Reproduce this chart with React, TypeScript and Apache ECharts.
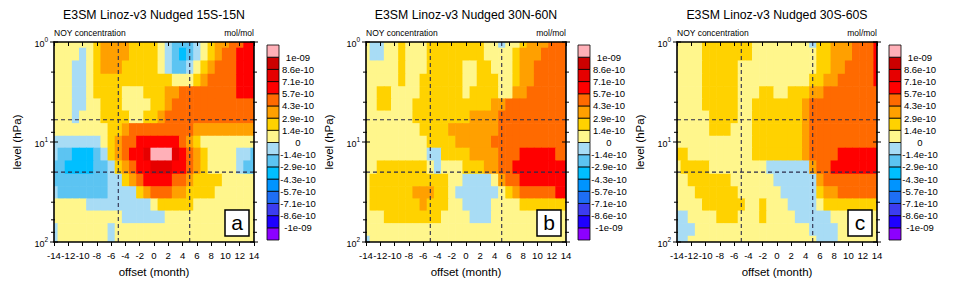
import React, { useEffect, useRef } from "react";
import * as echarts from "echarts";

// ---------- data ----------
const offsets = [-14, -13, -12, -11, -10, -9, -8, -7, -6, -5, -4, -3, -2, -1, 0, 1, 2, 3, 4, 5, 6, 7, 8, 9, 10, 11, 12, 13, 14];
const levels = [1, 1.3, 1.8, 2.4, 3.2, 4.2, 5.6, 7.5, 10, 13, 18, 24, 32, 42, 56, 75, 100]; // hPa
const yMajorTicks = [1, 10, 100];
const yMinorTicks = [2, 4, 6, 8, 20, 40, 60, 80];
const refOffsets = [-5, 5];
const refLevels = [6, 20];
// contour levels in units of 1e-10 mol/mol
const contourLevels = [-10, -8.6, -7.1, -5.7, -4.3, -2.9, -1.4, 0, 1.4, 2.9, 4.3, 5.7, 7.1, 8.6, 10];
const contourLabels = ["-1e-09", "-8.6e-10", "-7.1e-10", "-5.7e-10", "-4.3e-10", "-2.9e-10", "-1.4e-10", "0", "1.4e-10", "2.9e-10", "4.3e-10", "5.7e-10", "7.1e-10", "8.6e-10", "1e-09"];
const fillColors = ["#8c00ff", "#1e00ff", "#3c3cf0", "#1e6ef5", "#0094ff", "#00bfff", "#5cc4f2", "#a8dcf5", "#fff68c", "#ffd200", "#ffa000", "#ff6a00", "#ff0000", "#e60000", "#cc0000", "#ffb0b8"];
const panelTitles = ["E3SM Linoz-v3 Nudged 15S-15N", "E3SM Linoz-v3 Nudged 30N-60N", "E3SM Linoz-v3 Nudged 30S-60S"];
const panelLetters = ["a", "b", "c"];

// NOy anomaly (1e-10 mol/mol), rows = levels (top to bottom), cols = offsets
const noy15S15N = [
  [0.6,0.6,0.6,0.6,0.6,0.6,2.1,3.6,3.6,3.6,3.6,2.1,2.1,2.1,2.1,0.6,-0.6,-2.1,-2.1,-2.1,-0.6,0.6,2.1,3.6,3.6,5,5,6.4,6.4],
  [0.6,0.6,0.6,0.6,-0.6,0.6,2.1,3.6,3.6,3.6,3.6,2.1,2.1,2.1,2.1,0.6,-0.6,-2.1,-3.6,-2.1,-0.6,0.6,2.1,3.6,5,5,6.4,6.4,6.4],
  [0.6,0.6,0.6,-0.6,-0.6,0.6,2.1,3.6,3.6,3.6,2.1,2.1,2.1,2.1,2.1,0.6,-0.6,-2.1,-2.1,-0.6,0.6,2.1,3.6,5,5,5,6.4,6.4,6.4],
  [0.6,0.6,0.6,-0.6,-0.6,0.6,2.1,2.1,2.1,2.1,2.1,2.1,2.1,2.1,2.1,2.1,2.1,0.6,0.6,0.6,2.1,3.6,5,5,5,5,6.4,6.4,6.4],
  [0.6,0.6,0.6,-0.6,-0.6,0.6,2.1,2.1,2.1,2.1,0.6,0.6,0.6,2.1,2.1,2.1,3.6,3.6,5,5,5,5,5,5,5,5,6.4,6.4,6.4],
  [0.6,0.6,0.6,-0.6,-0.6,0.6,0.6,2.1,2.1,2.1,0.6,0.6,0.6,0.6,2.1,2.1,3.6,5,5,5,5,5,5,5,5,5,5,5,5],
  [0.6,0.6,0.6,-0.6,0.6,0.6,0.6,2.1,2.1,2.1,2.1,0.6,0.6,2.1,2.1,3.6,5,5,5,5,5,5,5,5,5,5,5,5,5],
  [0.6,0.6,0.6,0.6,0.6,0.6,0.6,0.6,2.1,2.1,3.6,5,5,5,5,5,5,5,5,5,3.6,3.6,3.6,3.6,3.6,3.6,3.6,3.6,3.6],
  [-0.6,-0.6,-0.6,-0.6,-0.6,-0.6,-0.6,0.6,2.1,3.6,5,5,6.4,6.4,6.4,6.4,6.4,6.4,5,3.6,2.1,0.6,0.6,0.6,0.6,0.6,0.6,0.6,0.6],
  [-0.6,-2.1,-2.1,-3.6,-3.6,-3.6,-2.1,-0.6,2.1,3.6,5,6.4,6.4,7.8,11,11,11,7.8,6.4,5,3.6,2.1,0.6,0.6,0.6,0.6,-0.6,-0.6,-2.1],
  [-2.1,-2.1,-3.6,-3.6,-3.6,-3.6,-2.1,-2.1,-0.6,2.1,3.6,5,6.4,6.4,7.8,7.8,7.8,6.4,6.4,5,3.6,2.1,0.6,0.6,0.6,0.6,-0.6,-2.1,-2.1],
  [-2.1,-2.1,-2.1,-2.1,-2.1,-2.1,-2.1,-2.1,-0.6,-0.6,2.1,3.6,5,6.4,6.4,6.4,6.4,5,5,3.6,2.1,2.1,2.1,2.1,0.6,0.6,0.6,0.6,0.6],
  [-0.6,-2.1,-2.1,-2.1,-2.1,-2.1,-2.1,-2.1,-0.6,-0.6,-0.6,-0.6,2.1,3.6,5,5,5,3.6,3.6,2.1,2.1,2.1,2.1,0.6,0.6,0.6,0.6,0.6,0.6],
  [0.6,0.6,0.6,0.6,0.6,-0.6,-0.6,-0.6,-0.6,-0.6,-0.6,-0.6,-0.6,-0.6,0.6,2.1,2.1,2.1,2.1,2.1,0.6,0.6,0.6,0.6,0.6,0.6,0.6,0.6,0.6],
  [0.6,0.6,0.6,0.6,0.6,0.6,0.6,0.6,0.6,0.6,-0.6,-0.6,-0.6,-0.6,-0.6,-0.6,0.6,0.6,0.6,0.6,0.6,0.6,0.6,0.6,0.6,0.6,0.6,0.6,0.6],
  [-0.6,0.6,0.6,0.6,0.6,0.6,0.6,0.6,-0.6,0.6,0.6,0.6,0.6,0.6,0.6,0.6,0.6,0.6,0.6,0.6,0.6,0.6,0.6,0.6,0.6,0.6,0.6,0.6,0.6],
  [-0.6,0.6,0.6,0.6,0.6,0.6,0.6,0.6,-0.6,0.6,0.6,0.6,0.6,0.6,0.6,0.6,0.6,0.6,0.6,0.6,0.6,0.6,0.6,0.6,0.6,0.6,0.6,0.6,0.6],
];

const noy30N60N = [
  [0.6,-0.6,-0.6,0.6,0.6,2.1,0.6,0.6,0.6,2.1,2.1,2.1,2.1,2.1,2.1,2.1,2.1,0.6,0.6,-0.6,0.6,0.6,2.1,3.6,3.6,3.6,5,5,5],
  [0.6,-0.6,-0.6,0.6,0.6,2.1,0.6,0.6,0.6,2.1,2.1,2.1,2.1,2.1,2.1,2.1,2.1,0.6,0.6,0.6,0.6,2.1,3.6,3.6,3.6,5,5,5,5],
  [0.6,0.6,0.6,0.6,0.6,2.1,0.6,0.6,0.6,2.1,2.1,2.1,2.1,2.1,0.6,0.6,2.1,2.1,0.6,0.6,0.6,2.1,3.6,3.6,5,5,5,5,5],
  [0.6,0.6,0.6,0.6,0.6,2.1,0.6,0.6,2.1,2.1,2.1,2.1,2.1,2.1,0.6,0.6,2.1,2.1,2.1,0.6,0.6,2.1,3.6,3.6,5,5,5,5,5],
  [0.6,0.6,2.1,2.1,0.6,0.6,0.6,0.6,2.1,2.1,2.1,2.1,2.1,2.1,0.6,2.1,2.1,2.1,2.1,0.6,0.6,3.6,3.6,5,5,5,5,5,5],
  [0.6,0.6,2.1,2.1,0.6,0.6,0.6,2.1,2.1,2.1,2.1,2.1,2.1,2.1,2.1,2.1,2.1,2.1,3.6,3.6,5,5,5,5,5,5,5,5,5],
  [0.6,0.6,0.6,0.6,0.6,0.6,0.6,2.1,2.1,2.1,2.1,2.1,2.1,2.1,2.1,3.6,3.6,3.6,3.6,5,5,5,5,5,5,5,5,5,5],
  [0.6,0.6,0.6,0.6,0.6,0.6,0.6,0.6,2.1,2.1,2.1,2.1,3.6,3.6,3.6,3.6,3.6,3.6,3.6,5,5,5,5,5,5,5,5,5,5],
  [0.6,0.6,0.6,0.6,0.6,0.6,0.6,0.6,0.6,2.1,2.1,2.1,2.1,3.6,3.6,3.6,3.6,3.6,5,5,5,5,5,5,5,5,5,5,5],
  [0.6,0.6,0.6,0.6,0.6,0.6,0.6,0.6,0.6,-0.6,-0.6,2.1,2.1,2.1,2.1,3.6,3.6,3.6,3.6,5,5,5,6.4,6.4,6.4,6.4,6.4,5,5],
  [0.6,0.6,2.1,2.1,2.1,2.1,2.1,2.1,2.1,0.6,-0.6,0.6,0.6,0.6,2.1,2.1,2.1,3.6,3.6,5,5,6.4,6.4,6.4,6.4,6.4,6.4,6.4,6.4],
  [0.6,2.1,2.1,2.1,2.1,2.1,2.1,2.1,2.1,2.1,2.1,2.1,0.6,0.6,-0.6,-0.6,-0.6,-0.6,0.6,3.6,5,5,6.4,6.4,6.4,6.4,6.4,6.4,6.4],
  [0.6,2.1,2.1,2.1,2.1,2.1,2.1,3.6,3.6,3.6,2.1,2.1,0.6,-0.6,-0.6,-0.6,-0.6,-0.6,-0.6,0.6,2.1,3.6,5,5,5,5,5,6.4,6.4],
  [0.6,2.1,2.1,2.1,2.1,2.1,2.1,2.1,3.6,2.1,2.1,2.1,0.6,0.6,-0.6,-0.6,-0.6,-0.6,0.6,0.6,0.6,0.6,2.1,2.1,2.1,2.1,2.1,2.1,2.1],
  [0.6,0.6,0.6,2.1,2.1,2.1,2.1,2.1,2.1,2.1,2.1,0.6,0.6,0.6,0.6,-0.6,-0.6,-0.6,0.6,0.6,0.6,0.6,0.6,0.6,0.6,0.6,0.6,0.6,0.6],
  [0.6,0.6,0.6,0.6,0.6,0.6,0.6,0.6,0.6,0.6,0.6,0.6,0.6,0.6,0.6,0.6,0.6,0.6,0.6,0.6,0.6,0.6,0.6,0.6,0.6,0.6,0.6,0.6,0.6],
  [-0.6,0.6,0.6,0.6,0.6,0.6,0.6,0.6,0.6,0.6,0.6,0.6,0.6,0.6,0.6,0.6,0.6,0.6,0.6,0.6,0.6,0.6,0.6,0.6,0.6,0.6,0.6,0.6,0.6],
];

const noy30S60S = [
  [0.6,0.6,0.6,0.6,2.1,2.1,2.1,2.1,2.1,2.1,2.1,0.6,0.6,0.6,0.6,0.6,0.6,0.6,0.6,-0.6,2.1,2.1,3.6,3.6,3.6,5,5,5,6.4],
  [0.6,0.6,0.6,0.6,2.1,2.1,2.1,2.1,2.1,2.1,2.1,0.6,0.6,0.6,0.6,0.6,0.6,0.6,0.6,0.6,2.1,2.1,3.6,3.6,3.6,5,5,5,6.4],
  [0.6,0.6,0.6,0.6,2.1,2.1,2.1,2.1,2.1,0.6,0.6,0.6,0.6,0.6,0.6,0.6,0.6,0.6,0.6,0.6,2.1,2.1,3.6,3.6,5,5,5,5,6.4],
  [0.6,0.6,0.6,0.6,2.1,2.1,2.1,2.1,2.1,0.6,0.6,0.6,0.6,0.6,0.6,0.6,0.6,0.6,0.6,2.1,2.1,3.6,3.6,5,5,5,5,5,6.4],
  [0.6,0.6,0.6,0.6,2.1,2.1,2.1,2.1,2.1,0.6,0.6,0.6,2.1,2.1,0.6,0.6,2.1,2.1,2.1,3.6,3.6,5,5,5,5,5,5,5,5],
  [0.6,0.6,0.6,0.6,2.1,2.1,2.1,2.1,2.1,0.6,0.6,2.1,2.1,2.1,2.1,2.1,2.1,2.1,3.6,5,5,5,5,5,5,5,5,5,5],
  [0.6,0.6,0.6,0.6,0.6,2.1,2.1,2.1,2.1,0.6,0.6,2.1,2.1,2.1,2.1,2.1,2.1,2.1,3.6,5,5,5,5,5,5,5,5,5,5],
  [0.6,0.6,0.6,0.6,0.6,2.1,2.1,2.1,0.6,0.6,0.6,2.1,2.1,2.1,2.1,2.1,2.1,2.1,3.6,5,5,5,5,5,5,5,5,5,5],
  [0.6,0.6,0.6,0.6,0.6,0.6,0.6,0.6,0.6,0.6,0.6,2.1,2.1,2.1,2.1,2.1,2.1,2.1,3.6,5,5,5,5,5,5,5,5,5,5],
  [2.1,2.1,0.6,0.6,0.6,0.6,0.6,0.6,0.6,0.6,0.6,2.1,2.1,2.1,2.1,2.1,2.1,2.1,3.6,5,5,5,5,6.4,6.4,6.4,6.4,6.4,6.4],
  [0.6,2.1,2.1,2.1,2.1,0.6,0.6,0.6,0.6,0.6,0.6,0.6,0.6,-0.6,-0.6,-0.6,-0.6,-0.6,-0.6,3.6,5,5,6.4,6.4,6.4,6.4,6.4,6.4,6.4],
  [0.6,0.6,2.1,2.1,2.1,2.1,2.1,2.1,0.6,0.6,0.6,0.6,0.6,0.6,-0.6,-0.6,-0.6,-0.6,-0.6,-0.6,3.6,5,5,5,5,5,5,5,5],
  [0.6,0.6,0.6,2.1,2.1,2.1,2.1,2.1,2.1,0.6,0.6,0.6,0.6,0.6,0.6,-0.6,-0.6,-0.6,-0.6,-0.6,2.1,3.6,3.6,5,5,5,5,5,5],
  [0.6,0.6,0.6,0.6,2.1,2.1,2.1,2.1,2.1,2.1,0.6,0.6,2.1,0.6,0.6,0.6,-0.6,-0.6,-0.6,-0.6,0.6,2.1,2.1,2.1,2.1,2.1,2.1,2.1,2.1],
  [-0.6,-0.6,0.6,0.6,0.6,0.6,2.1,2.1,2.1,0.6,0.6,0.6,2.1,0.6,0.6,0.6,0.6,-0.6,-0.6,-0.6,-0.6,-0.6,0.6,0.6,0.6,0.6,0.6,0.6,0.6],
  [-0.6,-0.6,-0.6,0.6,0.6,0.6,0.6,0.6,0.6,0.6,0.6,0.6,0.6,0.6,0.6,0.6,0.6,0.6,0.6,-0.6,-0.6,-0.6,-0.6,0.6,0.6,0.6,0.6,0.6,0.6],
  [-0.6,-0.6,0.6,0.6,0.6,0.6,0.6,0.6,0.6,0.6,0.6,0.6,0.6,0.6,0.6,0.6,0.6,0.6,0.6,0.6,-0.6,-0.6,-0.6,0.6,0.6,0.6,0.6,0.6,0.6],
];

const panels = [noy15S15N, noy30N60N, noy30S60S];

// ---------- layout ----------
const FONT = '"Liberation Sans", Arial, Helvetica, sans-serif';
const PLOT_LEFT = [54, 366, 677];
const PLOT_TOP = 42;
const PLOT_W = 200;
const PLOT_H = 200;
const CB_LEFT = [267, 578, 889];
const CB_TOP = 45;
const CB_W = 12;
const CB_H = 195;
const DASH_COLOR = "#2b2b4a";

const levelLogs = levels.map((l) => Math.log10(l));

function buildOption() {
  const grid: any[] = [];
  const xAxis: any[] = [];
  const yAxis: any[] = [];
  const series: any[] = [];
  const cellSeriesIdx: number[] = [];
  const graphics: any[] = [];

  for (let p = 0; p < 3; p++) {
    grid.push({ left: PLOT_LEFT[p], top: PLOT_TOP, width: PLOT_W, height: PLOT_H, outerBoundsMode: "none", containLabel: false });
  }
  for (let p = 0; p < 3; p++) {
    grid.push({ left: CB_LEFT[p], top: CB_TOP, width: CB_W, height: CB_H, outerBoundsMode: "none", containLabel: false });
  }

  const axisLine = { show: true, onZero: false, lineStyle: { color: "#000", width: 1.6 } };

  for (let p = 0; p < 3; p++) {
    xAxis.push({
      type: "value", gridIndex: p, position: "bottom", min: offsets[0], max: offsets[offsets.length - 1], interval: 2, z: 10,
      axisLine, axisTick: { show: true, length: 4, inside: false, lineStyle: { color: "#000", width: 1 } },
      axisLabel: { show: true, fontSize: 9.6, color: "#000", margin: 8, fontFamily: FONT },
      splitLine: { show: false },
      name: "offset (month)", nameLocation: "middle", nameGap: 24,
      nameTextStyle: { fontSize: 11.5, color: "#000", fontFamily: FONT },
    });
    xAxis.push({
      type: "value", gridIndex: p, position: "top", min: offsets[0], max: offsets[offsets.length - 1], interval: 2, z: 10,
      axisLine, axisTick: { show: true, length: 4, inside: true, lineStyle: { color: "#000", width: 1 } },
      axisLabel: { show: false }, splitLine: { show: false },
    });
    yAxis.push({
      type: "value", gridIndex: p, position: "left", min: 0, max: 2, interval: 1, inverse: true, z: 10,
      axisLine, axisTick: { show: false }, splitLine: { show: false },
      axisLabel: {
        show: true, margin: 6, color: "#000",
        formatter: (v: number) => `{b|10}{s|${Math.round(v)}}`,
        rich: {
          b: { fontSize: 9, lineHeight: 12, verticalAlign: "bottom", fontFamily: FONT, color: "#000" },
          s: { fontSize: 6.5, lineHeight: 12, verticalAlign: "top", fontFamily: FONT, color: "#000" },
        },
      },
      name: "level (hPa)", nameLocation: "middle", nameGap: 31,
      nameTextStyle: { fontSize: 11.5, color: "#000", fontFamily: FONT },
    });
    yAxis.push({
      type: "value", gridIndex: p, position: "right", min: 0, max: 2, interval: 1, inverse: true, z: 10,
      axisLine, axisTick: { show: false }, axisLabel: { show: false }, splitLine: { show: false },
    });
  }
  for (let p = 0; p < 3; p++) {
    xAxis.push({ type: "value", gridIndex: 3 + p, min: 0, max: 1, show: false });
    yAxis.push({
      type: "value", gridIndex: 3 + p, min: 0, max: fillColors.length, interval: 1, position: "right",
      axisLine: { show: false, onZero: false }, axisTick: { show: false }, splitLine: { show: false },
      axisLabel: {
        show: true, align: "center", margin: 19, fontSize: 9.5, color: "#000", fontFamily: FONT,
        formatter: (v: number) => (v >= 1 && v <= contourLabels.length ? contourLabels[v - 1] : ""),
      },
    });
  }

  for (let p = 0; p < 3; p++) {
    const grid2 = panels[p];
    const data: any[] = [];
    for (let k = 0; k < levels.length; k++) {
      for (let j = 0; j < offsets.length; j++) {
        data.push([offsets[j], levelLogs[k], grid2[k][j], k]);
      }
    }
    cellSeriesIdx.push(series.length);
    series.push({
      type: "custom", xAxisIndex: 2 * p, yAxisIndex: 2 * p, clip: true, silent: true, z: 1,
      encode: { x: 0, y: 1 },
      data,
      renderItem: (params: any, api: any) => {
        const x = api.value(0) as number;
        const k = api.value(3) as number;
        const yTop = k === 0 ? levelLogs[0] : (levelLogs[k - 1] + levelLogs[k]) / 2;
        const yBot = k === levels.length - 1 ? levelLogs[k] : (levelLogs[k] + levelLogs[k + 1]) / 2;
        const x0 = Math.max(offsets[0], x - 0.5);
        const x1 = Math.min(offsets[offsets.length - 1], x + 0.5);
        const a = api.coord([x0, yTop]);
        const b = api.coord([x1, yBot]);
        const color = api.visual("color");
        return {
          type: "rect",
          shape: { x: Math.min(a[0], b[0]), y: Math.min(a[1], b[1]), width: Math.abs(b[0] - a[0]) + 0.6, height: Math.abs(b[1] - a[1]) + 0.6 },
          style: { fill: color },
        };
      },
    });

    // reference dashed lines
    refOffsets.forEach((o) => {
      series.push({
        type: "line", xAxisIndex: 2 * p, yAxisIndex: 2 * p, silent: true, symbol: "none", z: 5,
        data: [[o, levelLogs[0]], [o, levelLogs[levelLogs.length - 1]]],
        lineStyle: { color: DASH_COLOR, width: 1.1, type: [4, 3] },
      });
    });
    refLevels.forEach((l) => {
      series.push({
        type: "line", xAxisIndex: 2 * p, yAxisIndex: 2 * p, silent: true, symbol: "none", z: 5,
        data: [[offsets[0], Math.log10(l)], [offsets[offsets.length - 1], Math.log10(l)]],
        lineStyle: { color: DASH_COLOR, width: 1.1, type: [4, 3] },
      });
    });

    // y ticks (log) on both sides
    const tickData = [
      ...yMajorTicks.map((v) => [offsets[0], Math.log10(v), 1]),
      ...yMinorTicks.map((v) => [offsets[0], Math.log10(v), 0]),
    ];
    series.push({
      type: "custom", xAxisIndex: 2 * p, yAxisIndex: 2 * p, clip: false, silent: true, z: 12,
      encode: { x: 0, y: 1 },
      data: tickData,
      renderItem: (params: any, api: any) => {
        const y = api.value(1) as number;
        const major = api.value(2) === 1;
        const l = api.coord([offsets[0], y]);
        const r = api.coord([offsets[offsets.length - 1], y]);
        const len = major ? 4 : 3;
        return {
          type: "group",
          children: [
            { type: "line", shape: { x1: l[0] - len, y1: l[1], x2: l[0] + (major ? len : 1), y2: l[1] }, style: { stroke: "#000", lineWidth: 1 } },
            { type: "line", shape: { x1: r[0] - (major ? len : 1), y1: r[1], x2: r[0] + len, y2: r[1] }, style: { stroke: "#000", lineWidth: 1 } },
          ],
        };
      },
    });

    // colorbar
    series.push({
      type: "custom", xAxisIndex: 6 + p, yAxisIndex: 6 + p, clip: false, silent: true, z: 3,
      encode: { x: 0, y: 1 },
      data: fillColors.map((c, i) => [0, i]),
      renderItem: (params: any, api: any) => {
        const i = api.value(1) as number;
        const a = api.coord([0, i]);
        const b = api.coord([1, i + 1]);
        return {
          type: "rect",
          shape: { x: Math.min(a[0], b[0]), y: Math.min(a[1], b[1]), width: Math.abs(b[0] - a[0]), height: Math.abs(b[1] - a[1]) },
          style: { fill: fillColors[i], stroke: "#000", lineWidth: 0.8 },
        };
      },
    });

    // texts
    const cx = PLOT_LEFT[p] + PLOT_W / 2;
    graphics.push({
      type: "text", x: cx, y: 14.5, z: 100,
      style: { text: panelTitles[p], fontSize: 12.3, fontFamily: FONT, fill: "#000", align: "center", verticalAlign: "middle", textAlign: "center", textVerticalAlign: "middle" },
    });
    graphics.push({
      type: "text", x: PLOT_LEFT[p], y: 32.5, z: 100,
      style: { text: "NOY concentration", fontSize: 8.5, fontFamily: FONT, fill: "#000", align: "left", verticalAlign: "middle", textAlign: "left", textVerticalAlign: "middle" },
    });
    graphics.push({
      type: "text", x: PLOT_LEFT[p] + PLOT_W, y: 32.5, z: 100,
      style: { text: "mol/mol", fontSize: 8.5, fontFamily: FONT, fill: "#000", align: "right", verticalAlign: "middle", textAlign: "right", textVerticalAlign: "middle" },
    });
    graphics.push({
      type: "rect", z: 100,
      shape: { x: PLOT_LEFT[p] + PLOT_W - 29, y: PLOT_TOP + PLOT_H - 32, width: 24, height: 26 },
      style: { fill: "#fff", stroke: "#000", lineWidth: 1.5 },
    });
    graphics.push({
      type: "text", x: PLOT_LEFT[p] + PLOT_W - 17, y: PLOT_TOP + PLOT_H - 19.5, z: 101,
      style: { text: panelLetters[p], fontSize: 21, fontFamily: FONT, fill: "#000", align: "center", verticalAlign: "middle", textAlign: "center", textVerticalAlign: "middle" },
    });
  }

  const pieces: any[] = [];
  for (let i = 0; i <= contourLevels.length; i++) {
    if (i === 0) pieces.push({ lt: contourLevels[0], color: fillColors[0] });
    else if (i === contourLevels.length) pieces.push({ gte: contourLevels[i - 1], color: fillColors[i] });
    else pieces.push({ gte: contourLevels[i - 1], lt: contourLevels[i], color: fillColors[i] });
  }

  return {
    animation: false,
    backgroundColor: "#fff",
    textStyle: { fontFamily: FONT, color: "#000" },
    grid, xAxis, yAxis,
    visualMap: { type: "piecewise", show: false, dimension: 2, seriesIndex: cellSeriesIdx, pieces },
    series,
    graphic: { elements: graphics },
  };
}

export default function App() {
  const ref = useRef<HTMLDivElement>(null);
  useEffect(() => {
    if (!ref.current) return;
    const chart = echarts.init(ref.current, undefined, { renderer: "svg" });
    chart.setOption(buildOption() as any);
    return () => chart.dispose();
  }, []);
  return <div ref={ref} style={{ position: "absolute", left: 0, top: 0, width: 954, height: 290, background: "#fff" }} />;
}
